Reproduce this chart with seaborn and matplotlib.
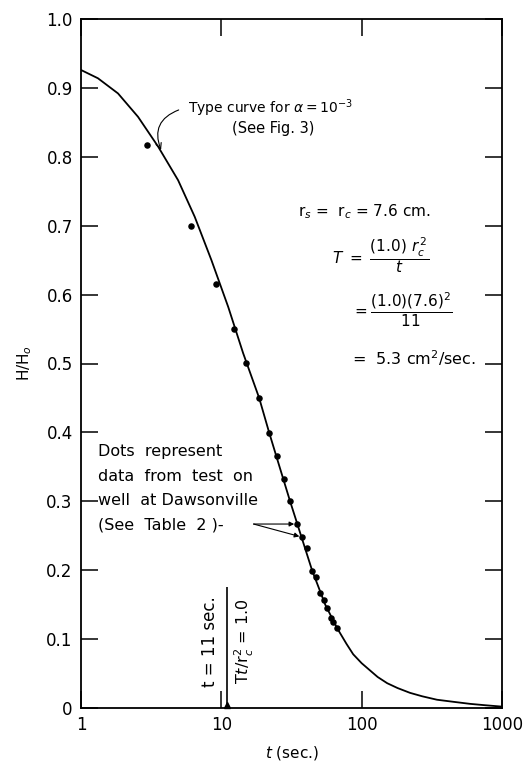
import numpy as np
import pandas as pd
import matplotlib
matplotlib.use("Agg")
import matplotlib.pyplot as plt
import seaborn as sns

# ---- data ----
curve_t = [1.0, 1.32, 1.835, 2.55, 3.54, 4.92, 6.46, 8.5, 11.2, 14.3, 18.6, 21.9, 26.0,
           30.9, 37.0, 44.3, 55.0, 66.8, 78.0, 87.0, 100.0, 114.0, 130.0, 152.0, 180.0,
           221.0, 270.0, 344.0, 450.0, 593.0, 760.0, 1000.0]
curve_h = [0.926, 0.914, 0.892, 0.858, 0.815, 0.766, 0.713, 0.650, 0.582, 0.515, 0.450,
           0.400, 0.350, 0.300, 0.250, 0.200, 0.150, 0.116, 0.093, 0.078, 0.065, 0.055,
           0.045, 0.036, 0.029, 0.022, 0.017, 0.012, 0.009, 0.006, 0.004, 0.002]

dot_t = [2.95, 6.1, 9.1, 12.3, 15.0, 18.6, 21.9, 24.9, 28.0, 30.9, 34.6, 37.6, 40.8,
         44.3, 47.3, 50.5, 54.0, 56.7, 60.5, 62.5, 66.8]
dot_h = [0.817, 0.699, 0.616, 0.550, 0.501, 0.450, 0.399, 0.366, 0.332, 0.300, 0.267,
         0.248, 0.232, 0.199, 0.190, 0.167, 0.157, 0.145, 0.131, 0.125, 0.116]

x_ticks = [1, 10, 100, 1000]
x_tick_labels = ["1", "10", "100", "1000"]
y_ticks = [0, 0.1, 0.2, 0.3, 0.4, 0.5, 0.6, 0.7, 0.8, 0.9, 1.0]
y_tick_labels = ["0", "0.1", "0.2", "0.3", "0.4", "0.5", "0.6", "0.7", "0.8", "0.9", "1.0"]
t_match = 11

curve_df = pd.DataFrame({"t": curve_t, "H": curve_h})
dots_df = pd.DataFrame({"t": dot_t, "H": dot_h})

sns.set_style("ticks", {"xtick.direction": "in", "ytick.direction": "in",
                        "axes.edgecolor": "black", "text.color": "black",
                        "axes.labelcolor": "black", "xtick.color": "black",
                        "ytick.color": "black"})
plt.rcParams["font.family"] = ["DejaVu Sans"]
plt.rcParams["mathtext.fontset"] = "dejavusans"

fig = plt.figure(figsize=(5.27, 7.64), dpi=100)
ax = fig.add_axes([81 / 527, 1 - 708 / 764, 421 / 527, 689 / 764])

sns.lineplot(data=curve_df, x="t", y="H", color="black", linewidth=1.3, ax=ax,
             solid_joinstyle="round")
sns.scatterplot(data=dots_df, x="t", y="H", color="black", s=22, edgecolor="black",
                linewidth=0, ax=ax, zorder=3)

ax.set_xscale("log")
ax.set_xlim(1, 1000)
ax.set_ylim(0, 1.0)
ax.set_xticks(x_ticks)
ax.set_xticklabels(x_tick_labels, fontsize=12)
ax.minorticks_off()
ax.set_yticks(y_ticks)
ax.set_yticklabels(y_tick_labels, fontsize=12)
ax.tick_params(axis="both", which="major", length=12, width=1.1, color="black",
               labelcolor="black", top=True, right=True, labeltop=False,
               labelright=False, pad=6)
for s in ax.spines.values():
    s.set_linewidth(1.3)
    s.set_color("black")

ax.set_xlabel(r"$t$ (sec.)", fontsize=11, labelpad=7, color="black")
ax.set_ylabel(r"H/H$_o$", fontsize=11, labelpad=9, color="black")

# annotations
tr = ax.transAxes
ax.text(0.254, 0.871, r"Type curve for $\alpha = 10^{-3}$", transform=tr, fontsize=10,
        va="center", ha="left")
ax.text(0.359, 0.841, "(See Fig. 3)", transform=tr, fontsize=10.5, va="center", ha="left")
ax.annotate("", xy=(3.72, 0.81), xycoords="data", xytext=(0.232, 0.868), textcoords=tr,
            arrowprops=dict(arrowstyle="->", color="black", lw=0.8,
                            connectionstyle="arc3,rad=0.5", shrinkA=0, shrinkB=0))

ax.text(0.515, 0.720, r"r$_s$ =  r$_c$ = 7.6 cm.", transform=tr, fontsize=11,
        va="center", ha="left")
ax.text(0.596, 0.657, r"$T\ =\ \dfrac{(1.0)\ r_c^{\,2}}{t}$", transform=tr, fontsize=11,
        va="center", ha="left")
ax.text(0.644, 0.578, r"$=\dfrac{(1.0)(7.6)^2}{11}$", transform=tr, fontsize=11,
        va="center", ha="left")
ax.text(0.644, 0.508, r"=  5.3 cm$^2$/sec.", transform=tr, fontsize=11.5,
        va="center", ha="left")

dots_lines = ["Dots  represent", "data  from  test  on", "well  at Dawsonville",
              "(See  Table  2 )-"]
for i, line in enumerate(dots_lines):
    ax.text(0.040, 0.3716 - i * 0.0353, line, transform=tr, fontsize=11.5,
            va="center", ha="left")
for k in (10, 11):
    ax.annotate("", xy=(dot_t[k], dot_h[k]), xycoords="data", xytext=(0.41, 0.267),
                textcoords=tr,
                arrowprops=dict(arrowstyle="-|>", color="black", lw=0.8,
                                mutation_scale=7, shrinkA=0, shrinkB=2))

ax.vlines(t_match, 0, 0.176, color="black", linewidth=1.2)
ax.plot([t_match], [0.004], marker="^", color="black", markersize=5, clip_on=False)
ax.text(8.3, 0.097, "t = 11 sec.", rotation=90, fontsize=12, va="center", ha="center")
ax.text(14.6, 0.097, r"T$t$/r$_c^2$ = 1.0", rotation=90, fontsize=11.5, va="center",
        ha="center")

fig.savefig("out.png", dpi=100, facecolor="white")
